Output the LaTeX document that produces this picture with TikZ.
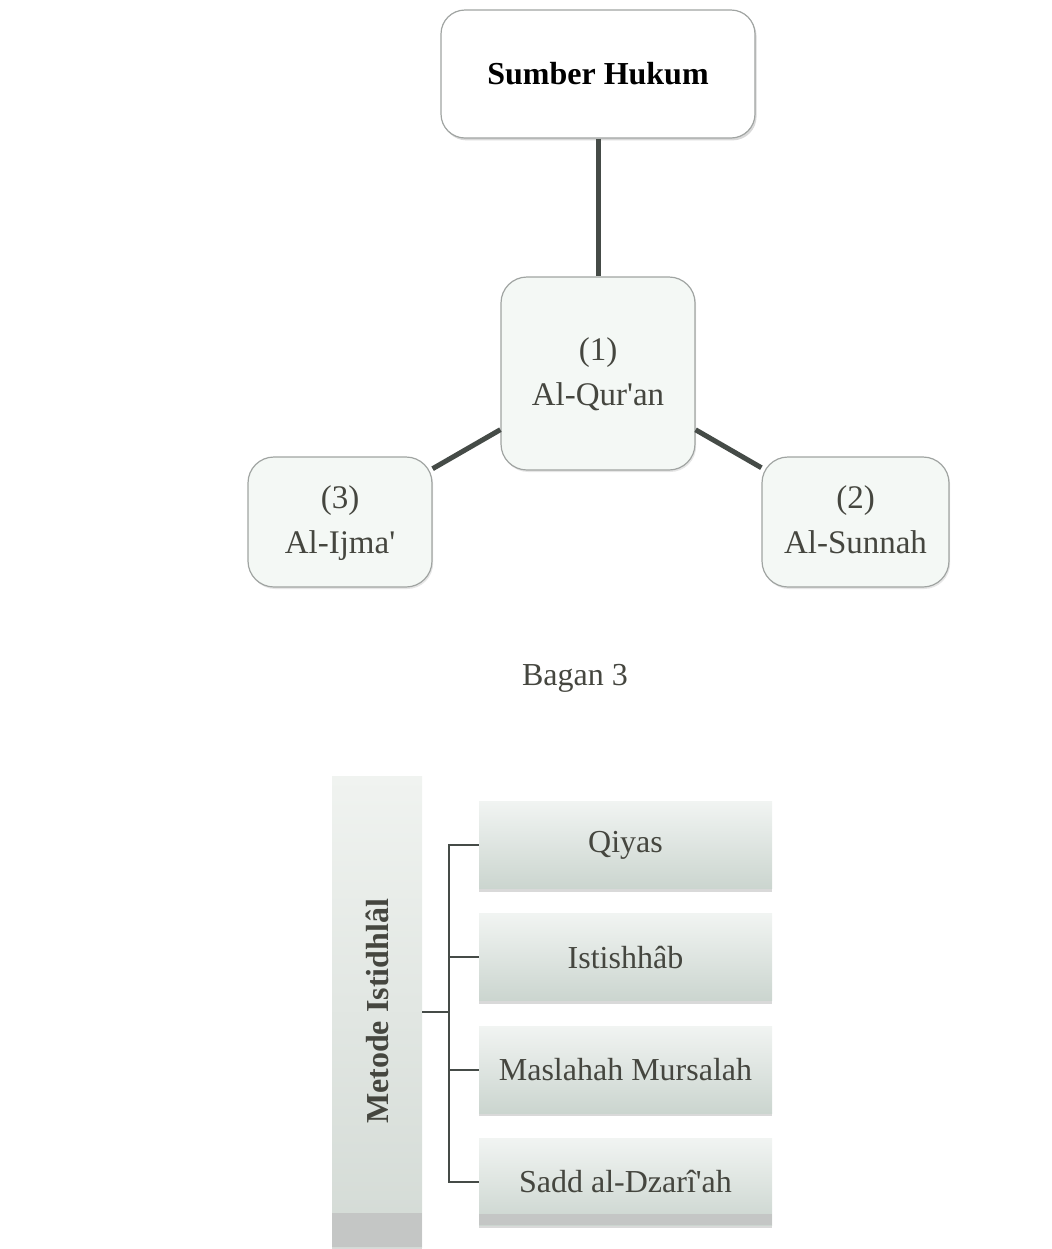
\documentclass[tikz,border=0pt]{standalone}
\usepackage{fontspec}
\setmainfont{Liberation Serif}
\usetikzlibrary{positioning,chains,shadows}
\definecolor{linegray}{HTML}{454B47}
\definecolor{boxgray}{HTML}{A0A4A2}
\definecolor{textgray}{HTML}{45463F}
\definecolor{srcfill}{HTML}{F4F8F5}
\definecolor{leaftop}{HTML}{F1F4F2}
\definecolor{leafbot}{HTML}{CBD5CF}
\definecolor{bartop}{HTML}{F0F3F0}
\definecolor{barbot}{HTML}{D3DAD5}
\definecolor{bandgray}{HTML}{C4C6C5}
\newcommand{\apos}{\textquotesingle}

\begin{document}
\begin{tikzpicture}[%
    x=0.5pt, y=-0.5pt,          % pixel-like grid, y grows downwards
    start chain=going below,    % the four methods are stacked
    node distance=12.25pt,      % gap between two stacked boxes
    font=\fontsize{16}{19}\selectfont,
    ]
\useasboundingbox (0,0) rectangle (1051,1249);
% -------------------------------------------------
% Box styles
\tikzset{
base/.style={draw=boxgray, line width=0.6pt, align=center, inner sep=0pt},
root/.style={base, rounded corners=12pt, fill=white,
    minimum width=157pt, minimum height=64pt,
    font=\fontsize{16}{19}\selectfont\bfseries,
    drop shadow={shadow xshift=0.8pt, shadow yshift=-1.2pt, opacity=0.3}},
source/.style={base, rounded corners=13pt, fill=srcfill, text=textgray,
    minimum height=65pt, font=\fontsize{16.5}{22.5}\selectfont,
    drop shadow={shadow xshift=0.6pt, shadow yshift=-1pt, opacity=0.2}},
leaf/.style={on chain, draw=none, top color=leaftop, bottom color=leafbot,
    minimum width=146.5pt, minimum height=43.5pt, text=textgray,
    drop shadow={shadow xshift=0pt, shadow yshift=-1.5pt, opacity=0.3}},
bar/.style={top color=bartop, bottom color=barbot,
    minimum width=45pt, minimum height=235.5pt,
    path picture={\fill[bandgray] (path picture bounding box.south west)
        rectangle ([yshift=17pt]path picture bounding box.south east);},
    drop shadow={shadow xshift=0pt, shadow yshift=-1.5pt, opacity=0.3}},
barlabel/.style={rotate=90, text=textgray, font=\fontsize{16}{19}\selectfont\bfseries},
caption/.style={text=textgray},
% -------------------------------------------------
% Connector line styles
trunk/.style={draw=linegray, line width=2.5pt},
branch/.style={draw=linegray, line width=1pt},
}
% -------------------------------------------------
% Upper part: the sources
\node [root] (sumber) at (598,74) {Sumber Hukum};
\node [source, minimum width=97pt, minimum height=96.5pt] (quran) at (598,373.5) {(1)\strut\\Al-Qur\apos an\strut};
\node [source, minimum width=92pt] (ijma) at (340,522) {(3)\strut\\Al-Ijma\apos\strut};
\node [source, minimum width=93.5pt] (sunnah) at (855.5,522) {(2)\strut\\Al-Sunnah\strut};

\draw [trunk] (sumber) -- (quran);
\draw [trunk] (quran) -- (ijma);
\draw [trunk] (quran) -- (sunnah);

\node [caption] (bagan) at (575,678) {Bagan 3};

% -------------------------------------------------
% Lower part: the methods
\node [bar, label={[barlabel]center:Metode Istidhl\^al}] (metode) at (377,1011.5) {};

\node [leaf] (qiyas) at (625.5,845) {Qiyas};
\node [leaf] (istishhab) {Istishh\^ab};
\node [leaf] (maslahah) {Maslahah Mursalah};
\node [leaf, path picture={\fill[bandgray] (path picture bounding box.south west)
        rectangle ([yshift=5.5pt]path picture bounding box.south east);}] (sadd) {Sadd al-Dzar\^i\apos ah};

\coordinate [right=13.5pt of metode.east] (hub);
\draw [branch] (metode.east) -- (hub);
\foreach \m in {qiyas,istishhab,maslahah,sadd}
    \draw [branch] (hub) |- (\m.west);

\end{tikzpicture}
\end{document}
